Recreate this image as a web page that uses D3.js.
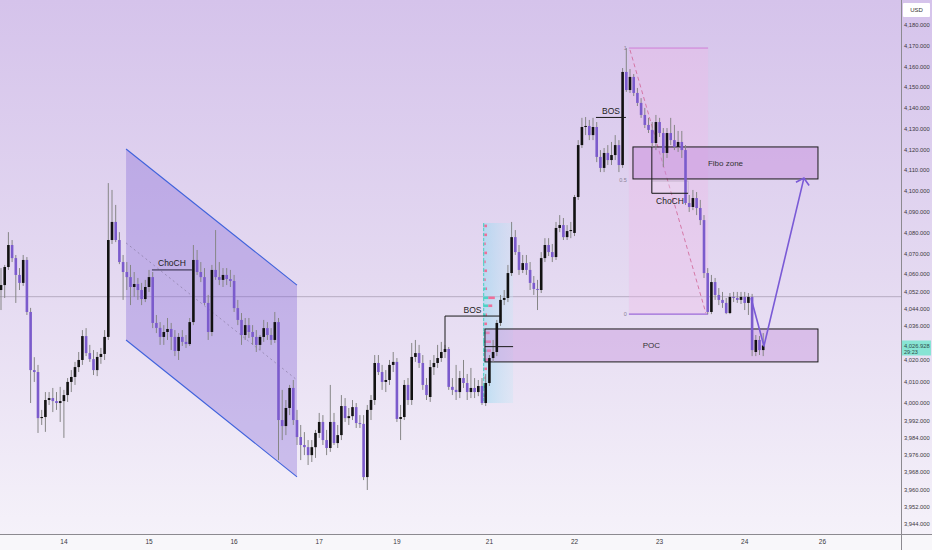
<!DOCTYPE html>
<html><head><meta charset="utf-8">
<script src="https://cdn.jsdelivr.net/npm/d3@7"></script>
<style>html,body{margin:0;padding:0;background:#fff;}svg{display:block;font-family:"Liberation Sans",Arial,sans-serif;}</style>
</head><body><svg id="c" width="932" height="550"></svg>
<script>
// ---------- DATA ----------
// hourly candles: [open, high, low, close]
const ohlc = [
[4052.7,4063.0,4043.4,4055.0],[4055.0,4064.5,4049.0,4063.5],[4063.5,4080.3,4062.1,4074.1],[4074.1,4076.5,4065.9,4067.8],
[4067.8,4069.3,4046.7,4059.7],[4059.7,4063.0,4052.7,4056.0],[4056.0,4069.3,4054.6,4066.9],[4066.9,4068.3,4041.1,4042.5],
[4042.5,4044.4,4000.2,4015.5],[4015.5,4021.5,4010.0,4014.6],[4014.6,4017.9,3986.3,3993.2],[3993.2,3997.0,3990.0,3993.7],
[3993.7,4005.3,3986.8,4001.6],[4001.6,4005.3,3999.3,4002.5],[4002.5,4007.2,3996.0,4001.1],[4001.1,4005.3,3997.0,4000.2],
[4000.2,4007.7,3991.4,4001.1],[4001.1,4006.3,3984.0,4003.9],[4003.9,4011.8,4000.7,4010.0],[4010.0,4015.5,4005.3,4012.3],
[4012.3,4019.3,4008.6,4016.9],[4016.9,4023.9,4014.6,4020.2],[4020.2,4034.1,4017.9,4031.3],[4031.3,4035.0,4022.0,4023.4],
[4023.4,4027.2,4019.3,4020.6],[4020.6,4024.8,4013.2,4015.5],[4015.5,4023.9,4012.7,4021.6],[4021.6,4025.8,4018.4,4023.0],
[4023.0,4034.1,4020.2,4030.9],[4030.9,4103.9,4029.5,4076.5],[4076.5,4100.6,4074.6,4085.2],[4085.2,4093.4,4075.5,4076.5],
[4076.5,4080.3,4064.9,4065.9],[4065.9,4069.3,4048.1,4061.1],[4061.1,4065.9,4052.7,4058.7],[4058.7,4064.5,4045.7,4054.1],
[4054.1,4061.1,4049.5,4055.5],[4055.5,4058.3,4048.1,4052.7],[4052.7,4056.0,4045.7,4048.5],[4048.5,4057.4,4047.1,4054.1],
[4054.1,4062.1,4051.8,4058.7],[4058.7,4061.1,4035.0,4037.4],[4037.4,4041.1,4032.7,4035.1],[4035.1,4037.8,4027.2,4030.9],
[4030.9,4036.4,4027.2,4033.2],[4033.2,4039.7,4029.5,4034.6],[4034.6,4037.4,4024.8,4030.9],[4030.9,4034.1,4022.0,4024.4],
[4024.4,4032.7,4020.2,4030.9],[4030.9,4034.1,4026.7,4028.6],[4028.6,4031.8,4025.8,4027.6],[4027.6,4039.7,4026.7,4037.8],
[4037.8,4074.1,4036.4,4066.9],[4066.9,4071.7,4059.7,4061.1],[4061.1,4065.9,4056.4,4058.7],[4058.7,4063.0,4045.7,4046.7],
[4046.7,4050.4,4029.5,4033.2],[4033.2,4064.5,4031.3,4062.1],[4062.1,4081.3,4057.4,4058.7],[4058.7,4065.9,4055.0,4057.4],
[4057.4,4063.0,4054.1,4059.7],[4059.7,4063.0,4055.0,4057.8],[4057.8,4062.1,4054.1,4056.9],[4056.9,4059.7,4042.5,4044.3],
[4044.3,4048.1,4036.4,4038.8],[4038.8,4042.0,4027.2,4031.8],[4031.8,4039.7,4029.5,4036.4],[4036.4,4039.7,4030.4,4033.2],
[4033.2,4036.4,4027.2,4030.9],[4030.9,4034.1,4023.9,4027.2],[4027.2,4031.8,4024.8,4030.9],[4030.9,4038.8,4028.6,4035.0],
[4035.0,4037.8,4029.5,4031.8],[4031.8,4035.0,4027.2,4029.5],[4029.5,4042.5,4028.1,4037.8],[4037.8,4039.7,3973.7,3992.3],
[3992.3,4006.3,3983.0,3989.5],[3989.5,4001.6,3985.3,3997.9],[3997.9,4008.6,3994.6,4007.2],[4007.2,4010.9,3990.0,3992.3],
[3992.3,3997.0,3980.7,3984.4],[3984.4,3990.0,3973.7,3980.7],[3980.7,3986.7,3976.0,3979.7],[3979.7,3983.0,3971.4,3976.0],
[3976.0,3983.0,3972.8,3979.7],[3979.7,3987.7,3974.7,3986.3],[3986.3,3995.6,3984.0,3991.4],[3991.4,3994.6,3980.7,3983.0],
[3983.0,3987.7,3976.0,3979.3],[3979.3,4008.6,3977.5,3991.4],[3991.4,3995.6,3980.7,3981.6],[3981.6,3990.0,3979.3,3985.3],
[3985.3,4003.9,3983.0,3998.8],[3998.8,4002.5,3991.4,3993.2],[3993.2,3997.9,3990.0,3994.1],[3994.1,4001.6,3992.3,3998.3],
[3998.3,4000.2,3988.6,3990.9],[3990.9,3994.6,3988.6,3990.5],[3990.5,3994.6,3964.4,3965.8],[3965.8,3999.3,3959.8,3997.0],
[3997.0,4003.9,3992.3,4001.6],[4001.6,4022.5,3999.3,4018.8],[4018.8,4022.5,4013.2,4014.6],[4014.6,4017.9,4006.3,4010.0],
[4010.0,4015.5,4005.3,4010.9],[4010.9,4020.2,4008.6,4017.9],[4017.9,4023.9,4014.6,4019.3],[4019.3,4021.1,3991.4,3992.8],
[3992.8,3999.3,3983.0,3993.7],[3993.7,4010.9,3992.3,4008.6],[4008.6,4011.8,3999.3,4001.6],[4001.6,4028.1,3999.3,4021.6],
[4021.6,4029.5,4019.3,4023.4],[4023.4,4027.2,4016.5,4018.8],[4018.8,4022.5,4006.3,4008.6],[4008.6,4011.8,4001.6,4003.9],
[4003.0,4020.2,4000.7,4016.9],[4016.9,4022.5,4013.2,4018.8],[4018.8,4027.2,4016.5,4021.1],[4021.1,4028.6,4019.3,4023.9],
[4023.9,4027.2,4021.1,4025.3],[4025.3,4026.2,4006.3,4007.7],[4007.7,4011.8,4003.9,4006.3],[4006.3,4017.9,4001.6,4005.3],
[4005.3,4015.1,4002.5,4011.8],[4011.8,4020.2,4007.2,4009.5],[4009.5,4013.7,4001.6,4005.3],[4005.3,4016.5,4002.5,4007.2],
[4007.2,4011.8,4002.5,4005.3],[4005.3,4010.9,4003.4,4008.1],[4008.1,4011.8,3999.3,4000.2],[4000.2,4013.7,3998.8,4009.5],
[4009.5,4022.5,4008.1,4021.1],[4021.1,4029.5,4019.3,4023.9],[4023.9,4038.8,4022.0,4037.4],[4037.4,4050.4,4036.0,4048.1],
[4048.1,4052.7,4045.7,4049.0],[4049.0,4064.5,4047.1,4060.6],[4060.6,4085.2,4059.2,4077.9],[4077.9,4081.3,4069.3,4070.7],
[4070.7,4074.1,4059.7,4062.1],[4062.1,4069.3,4060.6,4065.4],[4065.4,4069.3,4059.7,4062.1],[4062.1,4065.9,4052.7,4056.0],
[4056.0,4059.2,4050.4,4053.2],[4053.2,4057.4,4043.4,4052.7],[4052.7,4070.7,4051.3,4067.8],[4067.8,4077.4,4065.9,4074.1],
[4074.1,4077.4,4068.8,4070.7],[4070.7,4074.6,4065.9,4068.3],[4068.3,4085.2,4066.9,4082.3],[4082.3,4088.5,4080.3,4083.7],
[4083.7,4087.1,4076.5,4077.9],[4077.9,4083.7,4076.5,4080.8],[4080.8,4085.2,4077.4,4081.3],[4079.9,4098.2,4078.4,4097.2],
[4097.2,4124.6,4095.8,4122.2],[4122.2,4135.3,4120.8,4130.9],[4130.9,4135.7,4127.0,4131.4],[4131.4,4134.3,4124.6,4127.0],
[4127.0,4135.3,4124.6,4130.9],[4130.9,4133.3,4114.0,4116.5],[4116.5,4119.8,4109.2,4111.2],[4111.2,4120.8,4109.2,4118.4],
[4118.4,4122.2,4112.6,4115.0],[4115.0,4123.7,4112.6,4117.4],[4117.4,4127.0,4115.0,4122.2],[4122.2,4124.6,4109.2,4112.6],
[4112.6,4159.3,4111.2,4157.4],[4157.4,4168.9,4147.8,4148.7],[4148.7,4158.8,4147.3,4155.0],[4155.0,4156.4,4145.8,4147.3],
[4147.3,4149.7,4141.0,4142.5],[4142.5,4144.8,4135.3,4136.7],[4136.7,4140.1,4130.4,4131.9],[4131.9,4135.3,4128.0,4129.5],
[4129.5,4133.3,4120.8,4123.2],[4123.2,4136.7,4119.8,4133.3],[4133.3,4135.3,4126.1,4128.0],[4128.0,4130.4,4111.6,4118.4],
[4118.4,4130.4,4116.0,4128.0],[4128.0,4135.3,4122.2,4124.6],[4124.6,4131.9,4119.8,4121.3],[4121.3,4129.0,4118.9,4123.7],
[4123.7,4129.0,4116.0,4119.8],[4119.8,4122.2,4093.4,4094.3],[4094.3,4098.2,4090.0,4092.4],[4092.4,4100.6,4090.9,4096.7],
[4096.7,4099.6,4088.5,4091.9],[4091.9,4095.8,4083.7,4086.1],[4086.1,4088.5,4058.3,4060.6],[4060.6,4063.0,4041.5,4042.5],
[4042.5,4059.7,4041.5,4056.4],[4056.4,4058.3,4048.1,4050.4],[4050.4,4053.6,4045.7,4048.1],[4048.1,4051.8,4044.4,4046.7],
[4046.7,4049.0,4041.5,4042.0],[4042.0,4051.3,4041.5,4049.5],[4049.5,4051.8,4047.1,4049.0],[4049.0,4051.8,4046.7,4048.1],
[4048.1,4051.8,4046.2,4049.5],[4049.5,4051.8,4043.4,4046.7],[4046.7,4051.3,4041.1,4049.5],[4049.5,4050.9,4022.0,4024.8],
[4023.9,4031.8,4022.0,4029.5],[4029.5,4031.3,4022.5,4024.8],[4024.8,4032.7,4022.0,4026.928]
];
const priceTicks = [4180,4170,4160,4150,4140,4130,4120,4110,4100,4090,4080,4070,4060,4052,4044,4036,4020,4010,4000,3992,3984,3976,3968,3960,3952,3944];
const dateLabels = ["14","15","16","17","19","21","22","23","24","26"];
const dateTickIndex = [17,40,63,86,107,132,155,178,201,222];
const currency = "USD";
const lastPrice = 4026.928;
const countdown = "29:23";
const refLinePrice = 4049.6;

// drawings, in (candle index, price)
const channelTop = [[33.8,4120.3],[80,4055.0]];
const channelBottom = [[33.8,4029.5],[80,3965.9]];
const channelMid = [[33.8,4075.1],[80,4010.9]];
const chochChannel = {i0:40.8, i1:51.6, price:4062.1, label:"ChoCH"};
const bosLower = {i0:120, i1:134.9, price:4040.6, leg:4024.8, label:"BOS"};
const profileRange = {i0:130.3, i1:138.4, top:4084.7, bottom:4000.2};
// volume profile rows: [price, up volume, down volume]
const vpRows = [[4083.2,1,2],[4078.9,1,2],[4074.6,1,1],[4070.2,1,2],[4065.9,1,1],[4061.6,1,2],[4057.4,1,1],[4053.2,2,1],
  [4049.0,4,5],[4045.3,4,3],[4041.1,2,1],[4036.9,1,2],[4032.7,2,3],[4028.6,2,4],[4024.4,3,3],[4020.2,2,2],[4016.0,1,2],[4011.8,1,1],[4007.7,2,1],[4003.5,1,1]];
const pocBox = {i0:130.8, i1:220.8, top:4034.6, bottom:4019.3, label:"POC", lineI1:138.4, linePrice:4026.4};
const fib = {i0:169.7, i1:191.1, p1:4168.9, p0:4041.5};
const fibLabels = [["1",1],["0.5",0.5],["0",0]];
const fibDiag = [[170,4168.0],[190.5,4042.0]];
const fiboZone = {i0:170.8, i1:220.8, top:4121.3, bottom:4105.9, label:"Fibo zone"};
const bosUpper = {i0:160.8, i1:168.9, price:4135.5, label:"BOS"};
const chochLower = {i0:175.9, i1:185.7, price:4099.0, from:4121.3, boxTop:4104.9, label:"ChoCH"};
const arrowPath = [[202.7,4049.0],[206.2,4026.7],[217.0,4106.3]];

// ---------- SCALES ----------
const W = 932, H = 550, plotR = 901, plotB = 534;
const X = d3.scaleLinear().domain([0, 243.24]).range([1, plotR]);
const Y = d3.scaleLinear().domain([3944, 4060, 4180]).range([524, 274.3, 25]);
const svg = d3.select('#c');
const defs = svg.append('defs');
const bg = defs.append('linearGradient').attr('id','bg').attr('x1',0).attr('y1',0).attr('x2',0).attr('y2',1);
bg.append('stop').attr('offset','0%').attr('stop-color','#d5c3eb');
bg.append('stop').attr('offset','50%').attr('stop-color','#e4d9f1');
bg.append('stop').attr('offset','100%').attr('stop-color','#f6f3fa');
const bl = defs.append('linearGradient').attr('id','blueband').attr('x1',0).attr('y1',0).attr('x2',1).attr('y2',0);
bl.append('stop').attr('offset','0%').attr('stop-color','rgba(150,215,240,0.55)');
bl.append('stop').attr('offset','100%').attr('stop-color','rgba(200,230,245,0.35)');
defs.append('clipPath').attr('id','plot').append('rect').attr('x',0).attr('y',0).attr('width',plotR).attr('height',plotB);

svg.append('rect').attr('width',W).attr('height',H).attr('fill','url(#bg)');
svg.append('rect').attr('x',0).attr('y',plotB).attr('width',W).attr('height',H-plotB).attr('fill','#f8f7fa');

const plot = svg.append('g').attr('clip-path','url(#plot)');
const line = d3.line().x(d=>X(d[0])).y(d=>Y(d[1]));

// reference horizontal line
plot.append('line').attr('x1',0).attr('x2',plotR).attr('y1',Y(refLinePrice)).attr('y2',Y(refLinePrice))
  .attr('stroke','rgba(120,110,130,0.55)').attr('stroke-width',0.8);

// channel
plot.append('path').attr('d', line(channelTop.concat(channelBottom.slice().reverse())) + 'Z')
  .attr('fill','rgba(120,90,210,0.32)');
plot.append('path').attr('d',line(channelTop)).attr('stroke','#3f62dc').attr('stroke-width',1.1).attr('fill','none');
plot.append('path').attr('d',line(channelBottom)).attr('stroke','#3f62dc').attr('stroke-width',1.1).attr('fill','none');
plot.append('path').attr('d',line(channelMid)).attr('stroke','rgba(110,100,130,0.6)').attr('stroke-width',0.8)
  .attr('stroke-dasharray','2,3').attr('fill','none');

// volume profile range
plot.append('rect').attr('x',X(profileRange.i0)).attr('y',Y(profileRange.top))
  .attr('width',X(profileRange.i1)-X(profileRange.i0)).attr('height',Y(profileRange.bottom)-Y(profileRange.top))
  .attr('fill','url(#blueband)');
plot.append('line').attr('x1',X(profileRange.i0)+0.5).attr('x2',X(profileRange.i0)+0.5)
  .attr('y1',Y(profileRange.top)).attr('y2',Y(profileRange.bottom))
  .attr('stroke','#5fd3c9').attr('stroke-width',1.2).attr('stroke-dasharray','3,2');
const vpU = 1.3;
vpRows.forEach(r=>{
  const y = Y(r[0]) - 1.5, x0 = X(profileRange.i0);
  plot.append('rect').attr('x',x0).attr('y',y).attr('width',r[1]*vpU).attr('height',2.6).attr('fill','#4fd2c6');
  plot.append('rect').attr('x',x0+r[1]*vpU).attr('y',y).attr('width',r[2]*vpU).attr('height',2.6).attr('fill','#ee6f9a');
});

// fibonacci retracement
plot.append('rect').attr('x',X(fib.i0)).attr('y',Y(fib.p1)).attr('width',X(fib.i1)-X(fib.i0))
  .attr('height',Y(fib.p0)-Y(fib.p1)).attr('fill','rgba(238,185,232,0.35)');
plot.append('line').attr('x1',X(fib.i0)).attr('x2',X(fib.i1)).attr('y1',Y(fib.p1)).attr('y2',Y(fib.p1))
  .attr('stroke','#cf7fd8').attr('stroke-width',1);
plot.append('line').attr('x1',X(fib.i0)).attr('x2',X(fib.i1)).attr('y1',Y(fib.p0)).attr('y2',Y(fib.p0))
  .attr('stroke','#9c6ad8').attr('stroke-width',1.2);
fibLabels.forEach(l=>{
  const p = fib.p0 + (fib.p1-fib.p0)*l[1];
  plot.append('text').attr('x',X(fib.i0)-2).attr('y',Y(p)).attr('dy','0.35em').attr('text-anchor','end')
    .attr('font-size',5.5).attr('fill','#8a8294').text(l[0]);
});
plot.append('path').attr('d',line(fibDiag)).attr('stroke','#d36e9e').attr('stroke-width',0.9)
  .attr('stroke-dasharray','4,3').attr('fill','none');

// POC box
plot.append('rect').attr('x',X(pocBox.i0)).attr('y',Y(pocBox.top)).attr('width',X(pocBox.i1)-X(pocBox.i0))
  .attr('height',Y(pocBox.bottom)-Y(pocBox.top)).attr('fill','rgba(200,150,222,0.45)').attr('stroke','#1a1a1a').attr('stroke-width',1);
// Fibo zone box
plot.append('rect').attr('x',X(fiboZone.i0)).attr('y',Y(fiboZone.top)).attr('width',X(fiboZone.i1)-X(fiboZone.i0))
  .attr('height',Y(fiboZone.bottom)-Y(fiboZone.top)).attr('fill','rgba(200,145,222,0.5)').attr('stroke','#1a1a1a').attr('stroke-width',1);

// ChoCH lower helper box
plot.append('rect').attr('x',X(chochLower.i0)).attr('y',Y(chochLower.boxTop)).attr('width',X(chochLower.i1)-X(chochLower.i0))
  .attr('height',Y(chochLower.price)-Y(chochLower.boxTop)).attr('fill','rgba(240,225,245,0.35)').attr('stroke','rgba(150,140,160,0.6)').attr('stroke-width',0.7);

// candles
const bw = 2.6;
const cg = plot.append('g');
cg.selectAll('line').data(ohlc).join('line')
  .attr('x1',(d,i)=>X(i)).attr('x2',(d,i)=>X(i)).attr('y1',d=>Y(d[1])).attr('y2',d=>Y(d[2]))
  .attr('stroke','#868686').attr('stroke-width',1);
cg.selectAll('rect').data(ohlc).join('rect')
  .attr('x',(d,i)=>X(i)-bw/2).attr('y',d=>Y(Math.max(d[0],d[3])))
  .attr('width',bw).attr('height',d=>Math.max(1,Math.abs(Y(d[0])-Y(d[3]))))
  .attr('fill',d=>d[3]>=d[0]?'#121212':'#7b5bcc');

// structure labels
const ann = plot.append('g').attr('font-size',8.5).attr('fill','#222');
function hline(o, color){ ann.append('line').attr('x1',X(o.i0)).attr('x2',X(o.i1)).attr('y1',Y(o.price)).attr('y2',Y(o.price)).attr('stroke',color||'#1a1a1a').attr('stroke-width',1); }
hline(chochChannel,'#2a2540');
ann.append('text').attr('x',(X(chochChannel.i0)+X(chochChannel.i1))/2).attr('y',Y(chochChannel.price)-3.5).attr('text-anchor','middle').text(chochChannel.label);
hline(bosLower);
ann.append('line').attr('x1',X(bosLower.i0)).attr('x2',X(bosLower.i0)).attr('y1',Y(bosLower.price)).attr('y2',Y(bosLower.leg)).attr('stroke','#1a1a1a');
ann.append('text').attr('x',(X(bosLower.i0)+X(bosLower.i1))/2).attr('y',Y(bosLower.price)-3.5).attr('text-anchor','middle').text(bosLower.label);
ann.append('line').attr('x1',X(pocBox.i0)).attr('x2',X(pocBox.lineI1)).attr('y1',Y(pocBox.linePrice)).attr('y2',Y(pocBox.linePrice)).attr('stroke','#1a1a1a');
ann.append('text').attr('x',(X(pocBox.i0)+X(pocBox.i1))/2).attr('y',(Y(pocBox.top)+Y(pocBox.bottom))/2).attr('dy','0.35em').attr('text-anchor','middle').attr('font-size',8).attr('fill','#333').text(pocBox.label);
ann.append('text').attr('x',(X(fiboZone.i0)+X(fiboZone.i1))/2).attr('y',(Y(fiboZone.top)+Y(fiboZone.bottom))/2).attr('dy','0.35em').attr('text-anchor','middle').attr('font-size',8).attr('fill','#333').text(fiboZone.label);
hline(bosUpper);
ann.append('text').attr('x',(X(bosUpper.i0)+X(bosUpper.i1))/2).attr('y',Y(bosUpper.price)-3.5).attr('text-anchor','middle').text(bosUpper.label);
hline(chochLower);
ann.append('line').attr('x1',X(chochLower.i0)).attr('x2',X(chochLower.i0)).attr('y1',Y(chochLower.from)).attr('y2',Y(chochLower.price)).attr('stroke','#1a1a1a');
ann.append('text').attr('x',(X(chochLower.i0)+X(chochLower.i1))/2).attr('y',Y(chochLower.price)+11).attr('text-anchor','middle').text(chochLower.label);

// projection arrow
const ag = plot.append('g');
ag.append('path').attr('d',line(arrowPath)).attr('stroke','#7a5ad6').attr('stroke-width',1.6).attr('fill','none').attr('stroke-linejoin','round');
(function(){
  const n = arrowPath.length, e = arrowPath[n-1], p = arrowPath[n-2];
  const ex = X(e[0]), ey = Y(e[1]), px = X(p[0]), py = Y(p[1]);
  const a = Math.atan2(ey-py, ex-px), L = 9, s = 0.85;
  const w1 = [ex - L*Math.cos(a-s), ey - L*Math.sin(a-s)], w2 = [ex - L*Math.cos(a+s), ey - L*Math.sin(a+s)];
  ag.append('path').attr('d',`M${w1[0]},${w1[1]}L${ex},${ey}L${w2[0]},${w2[1]}`).attr('stroke','#7a5ad6').attr('stroke-width',1.6).attr('fill','none');
})();

// axes frame
svg.append('line').attr('x1',plotR+0.5).attr('x2',plotR+0.5).attr('y1',0).attr('y2',H).attr('stroke','#8c8a90').attr('stroke-width',1);
svg.append('line').attr('x1',0).attr('x2',W).attr('y1',plotB+0.5).attr('y2',plotB+0.5).attr('stroke','#8c8a90').attr('stroke-width',1);

// price axis
const ya = svg.append('g').attr('font-size',5.8).attr('fill','#3a3840');
ya.selectAll('text').data(priceTicks).join('text')
  .attr('x',904).attr('y',d=>Y(d)).attr('dy','0.35em')
  .text(d=>d3.format(',.3f')(d));
// currency box
svg.append('rect').attr('x',903).attr('y',3).attr('width',27).attr('height',14).attr('fill','#ffffff').attr('rx',1);
svg.append('text').attr('x',916.5).attr('y',10).attr('dy','0.35em').attr('text-anchor','middle').attr('font-size',6).attr('fill','#333').text(currency);
// last price label
const ly = Y(lastPrice);
svg.append('rect').attr('x',902).attr('y',ly-5).attr('width',29).attr('height',15).attr('fill','#88e4d4');
svg.append('text').attr('x',904).attr('y',ly).attr('dy','0.35em').attr('font-size',5.8).attr('fill','#2e4e4a')
  .text(d3.format(',.3f')(lastPrice));
svg.append('text').attr('x',904).attr('y',ly+6.5).attr('dy','0.35em').attr('font-size',5.5).attr('fill','#2e4e4a').text(countdown);

// date axis
svg.append('g').attr('font-size',6.5).attr('fill','#3a3840').selectAll('text').data(dateLabels).join('text')
  .attr('x',(d,i)=>X(dateTickIndex[i])).attr('y',542).attr('dy','0.35em').attr('text-anchor','middle').text(d=>d);
</script></body></html>
